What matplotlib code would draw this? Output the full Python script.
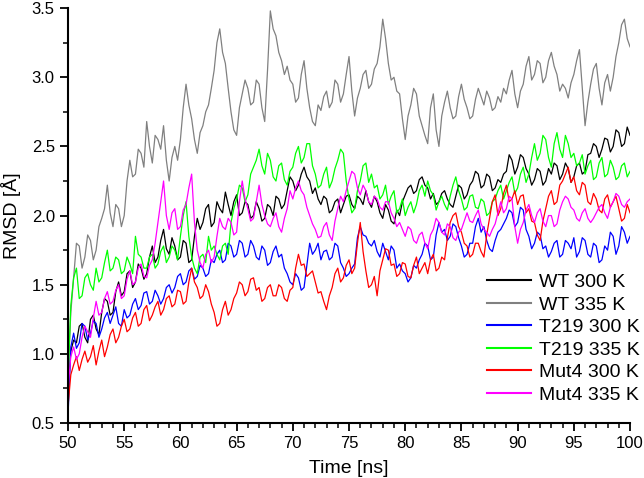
import numpy as np
import matplotlib
matplotlib.use("Agg")
import matplotlib.pyplot as plt
from matplotlib.ticker import MultipleLocator

# time axis: one sample every 0.25 ns from 50 to 100 ns
time_ns = np.arange(201) * 0.25 + 50.0

# RMSD values [Å].
# "_pts" are the values at 50.0, 50.5, ... 100.0 ns (rows of 5 ns),
# "_mid" are the values in between (50.25, 50.75, ...), which carry the jitter.
wt_300_pts = [
    0.70, 1.10, 1.20, 1.12, 1.25, 1.18, 1.30, 1.38, 1.30, 1.52,
    1.45, 1.60, 1.52, 1.62, 1.58, 1.78, 1.70, 1.90, 1.72, 1.78,
    1.70, 1.80, 1.68, 1.98, 1.95, 2.08, 1.95, 2.05, 2.17, 2.00,
    2.15, 2.02, 2.08, 2.00, 2.05, 1.98, 2.06, 2.14, 2.05, 2.18,
    2.25, 2.22, 2.35, 2.25, 2.20, 2.08, 2.12, 2.04, 2.12, 2.08,
    2.15, 2.05, 2.12, 2.18, 2.06, 2.10, 1.98, 2.04, 1.94, 2.00,
    2.15, 2.22, 2.18, 2.28, 2.20, 2.16, 2.10, 2.18, 2.08, 2.14,
    2.20, 2.15, 2.25, 2.30, 2.22, 2.28, 2.20, 2.24, 2.32, 2.40,
    2.35, 2.42, 2.30, 2.26, 2.32, 2.25, 2.30, 2.36, 2.30, 2.34,
    2.28, 2.38, 2.32, 2.45, 2.50, 2.48, 2.55, 2.50, 2.60, 2.52,
    2.58,
]
wt_300_mid = [
    1.02, 1.08, 1.22, 1.08, 1.28, 1.14, 1.40, 1.28, 1.45, 1.42,
    1.58, 1.48, 1.65, 1.54, 1.70, 1.66, 1.82, 1.76, 1.84, 1.68,
    1.82, 1.66, 1.85, 1.90, 2.05, 1.92, 2.10, 2.02, 2.08, 2.10,
    2.00, 2.10, 1.98, 2.10, 1.96, 2.08, 2.00, 2.12, 2.08, 2.28,
    2.18, 2.30, 2.28, 2.16, 2.12, 2.14, 2.02, 2.10, 2.02, 2.14,
    2.08, 2.14, 2.08, 2.10, 2.14, 2.02, 2.08, 1.96, 2.04, 2.10,
    2.20, 2.16, 2.26, 2.22, 2.12, 2.08, 2.16, 2.12, 2.06, 2.22,
    2.12, 2.22, 2.32, 2.20, 2.30, 2.18, 2.26, 2.30, 2.44, 2.30,
    2.44, 2.34, 2.22, 2.34, 2.22, 2.34, 2.38, 2.26, 2.38, 2.24,
    2.36, 2.30, 2.44, 2.52, 2.42, 2.56, 2.46, 2.62, 2.50, 2.64,
]
wt_335_pts = [
    0.85, 1.55, 1.78, 1.70, 1.82, 1.75, 1.98, 2.22, 1.92, 2.05,
    2.00, 2.40, 2.30, 2.45, 2.68, 2.38, 2.55, 2.65, 2.25, 2.50,
    2.55, 2.95, 2.70, 2.45, 2.65, 2.80, 3.05, 3.35, 3.10, 2.75,
    2.58, 2.88, 2.92, 2.82, 2.95, 2.68, 3.48, 3.30, 3.12, 3.08,
    2.95, 2.85, 3.12, 2.78, 2.65, 2.76, 2.90, 2.82, 2.95, 2.88,
    3.15, 2.72, 2.92, 3.05, 2.95, 3.10, 3.42, 3.10, 3.00, 2.88,
    2.55, 2.80, 2.88, 2.65, 2.52, 2.88, 2.50, 2.82, 2.78, 2.72,
    2.95, 2.78, 2.72, 2.92, 2.80, 2.85, 2.78, 2.82, 2.88, 3.05,
    2.78, 2.95, 3.15, 3.02, 3.10, 3.00, 3.18, 3.02, 2.95, 2.85,
    3.02, 3.20, 2.65, 2.95, 3.10, 2.80, 3.02, 3.00, 3.25, 3.42,
    3.22,
]
wt_335_mid = [
    1.30, 1.80, 1.62, 1.86, 1.68, 1.92, 2.05, 2.02, 2.08, 1.92,
    2.25, 2.28, 2.48, 2.35, 2.50, 2.58, 2.48, 2.40, 2.42, 2.40,
    2.78, 2.80, 2.55, 2.60, 2.75, 2.92, 3.25, 3.18, 2.92, 2.62,
    2.78, 2.98, 2.80, 2.98, 2.78, 3.05, 3.35, 3.18, 3.02, 2.98,
    2.82, 3.02, 2.92, 2.68, 2.80, 2.86, 2.78, 2.98, 2.82, 3.02,
    2.90, 2.85, 3.02, 2.92, 3.06, 3.22, 3.28, 2.98, 2.90, 2.70,
    2.72, 2.92, 2.72, 2.58, 2.78, 2.62, 2.72, 2.90, 2.70, 2.86,
    2.84, 2.70, 2.84, 2.86, 2.90, 2.76, 2.86, 2.92, 2.98, 2.88,
    2.90, 3.08, 2.98, 3.12, 2.96, 3.12, 3.08, 2.90, 2.92, 2.96,
    3.12, 2.92, 2.82, 3.06, 2.92, 2.96, 2.90, 3.15, 3.38, 3.28,
]
t219_300_pts = [
    0.55, 1.15, 1.08, 1.20, 1.15, 1.22, 1.18, 1.30, 1.28, 1.22,
    1.32, 1.28, 1.40, 1.35, 1.45, 1.38, 1.42, 1.40, 1.50, 1.48,
    1.58, 1.52, 1.62, 1.56, 1.62, 1.58, 1.66, 1.75, 1.68, 1.78,
    1.72, 1.80, 1.72, 1.78, 1.68, 1.75, 1.66, 1.78, 1.72, 1.58,
    1.50, 1.55, 1.48, 1.80, 1.75, 1.68, 1.75, 1.70, 1.78, 1.62,
    1.58, 1.65, 1.92, 1.85, 1.78, 1.74, 1.80, 1.68, 1.75, 1.65,
    1.58, 1.55, 1.62, 1.72, 1.78, 1.70, 1.95, 1.90, 1.85, 1.92,
    1.78, 1.72, 1.80, 1.98, 1.92, 1.76, 1.82, 1.90, 1.98, 2.02,
    1.95, 2.04, 1.85, 1.80, 1.86, 1.78, 1.74, 1.82, 1.72, 1.80,
    1.84, 1.74, 1.82, 1.70, 1.78, 1.68, 1.75, 1.85, 1.78, 1.88,
    1.85,
]
t219_300_mid = [
    1.05, 1.04, 1.22, 1.10, 1.24, 1.12, 1.26, 1.22, 1.34, 1.20,
    1.26, 1.36, 1.32, 1.44, 1.36, 1.46, 1.36, 1.48, 1.44, 1.56,
    1.50, 1.60, 1.54, 1.64, 1.56, 1.68, 1.72, 1.66, 1.80, 1.70,
    1.82, 1.70, 1.82, 1.70, 1.78, 1.64, 1.74, 1.70, 1.62, 1.52,
    1.58, 1.46, 1.64, 1.72, 1.80, 1.74, 1.68, 1.80, 1.66, 1.56,
    1.62, 1.84, 1.86, 1.80, 1.82, 1.70, 1.74, 1.78, 1.62, 1.60,
    1.52, 1.64, 1.68, 1.80, 1.68, 1.86, 1.88, 1.82, 1.94, 1.84,
    1.70, 1.80, 1.92, 1.88, 1.82, 1.74, 1.88, 1.94, 2.04, 1.92,
    2.06, 1.90, 1.76, 1.88, 1.76, 1.70, 1.80, 1.70, 1.82, 1.76,
    1.70, 1.84, 1.72, 1.80, 1.66, 1.78, 1.88, 1.72, 1.92, 1.80,
]
t219_335_pts = [
    0.80, 1.55, 1.40, 1.55, 1.50, 1.62, 1.55, 1.75, 1.62, 1.68,
    1.60, 1.65, 1.85, 1.70, 1.62, 1.72, 1.65, 1.78, 1.70, 1.75,
    1.85, 2.10, 1.70, 1.58, 1.72, 1.85, 1.78, 1.68, 1.80, 1.95,
    2.12, 2.20, 2.15, 2.35, 2.48, 2.30, 2.40, 2.25, 2.38, 2.22,
    2.35, 2.50, 2.42, 2.52, 2.30, 2.22, 2.35, 2.25, 2.40, 2.45,
    2.12, 2.05, 2.25, 2.38, 2.30, 2.22, 2.15, 2.08, 2.18, 2.05,
    2.00, 2.10, 2.08, 2.22, 2.25, 2.15, 2.10, 2.08, 2.14, 2.28,
    2.12, 2.06, 2.15, 2.05, 2.10, 2.02, 2.12, 2.22, 2.18, 2.28,
    2.20, 2.35, 2.30, 2.52, 2.45, 2.55, 2.35, 2.60, 2.42, 2.52,
    2.45, 2.38, 2.30, 2.40, 2.28, 2.42, 2.30, 2.35, 2.28, 2.38,
    2.32,
]
t219_335_mid = [
    1.35, 1.62, 1.42, 1.58, 1.46, 1.52, 1.66, 1.60, 1.70, 1.58,
    1.70, 1.58, 1.72, 1.62, 1.70, 1.62, 1.74, 1.66, 1.78, 1.68,
    2.00, 1.85, 1.62, 1.70, 1.66, 1.75, 1.72, 1.78, 1.72, 2.05,
    2.22, 2.10, 2.30, 2.40, 2.36, 2.45, 2.28, 2.36, 2.26, 2.32,
    2.45, 2.38, 2.52, 2.36, 2.20, 2.30, 2.20, 2.34, 2.48, 2.25,
    2.02, 2.18, 2.36, 2.24, 2.20, 2.12, 2.22, 2.14, 2.02, 2.12,
    2.06, 2.02, 2.18, 2.14, 2.18, 2.04, 2.14, 2.04, 2.22, 2.18,
    2.04, 2.14, 2.06, 2.12, 2.00, 2.10, 2.18, 2.12, 2.24, 2.16,
    2.30, 2.24, 2.42, 2.40, 2.58, 2.42, 2.52, 2.48, 2.58, 2.42,
    2.36, 2.44, 2.36, 2.26, 2.38, 2.28, 2.40, 2.26, 2.36, 2.28,
]
mut4_300_pts = [
    0.62, 0.92, 0.88, 1.02, 0.98, 0.92, 1.10, 1.05, 1.18, 1.12,
    1.25, 1.18, 1.30, 1.22, 1.35, 1.28, 1.38, 1.32, 1.42, 1.36,
    1.45, 1.38, 1.62, 1.48, 1.42, 1.45, 1.30, 1.22, 1.38, 1.32,
    1.44, 1.50, 1.45, 1.55, 1.48, 1.40, 1.50, 1.42, 1.48, 1.38,
    1.48, 1.72, 1.65, 1.58, 1.52, 1.45, 1.32, 1.48, 1.62, 1.55,
    1.68, 1.62, 1.95, 1.60, 1.50, 1.42, 1.68, 1.75, 1.65, 1.58,
    1.65, 1.55, 1.70, 1.62, 1.58, 1.72, 1.62, 1.68, 1.95, 2.02,
    1.88, 1.78, 1.72, 1.80, 1.70, 1.98, 2.15, 2.05, 2.22, 2.12,
    2.08, 2.15, 2.05, 1.95, 1.82, 2.05, 2.18, 2.10, 2.25, 2.35,
    2.28, 2.15, 2.22, 2.08, 2.12, 2.02, 2.15, 2.10, 2.05, 1.98,
    2.02,
]
mut4_300_mid = [
    0.85, 0.98, 0.96, 0.94, 1.06, 1.02, 0.98, 1.14, 1.08, 1.20,
    1.16, 1.26, 1.20, 1.32, 1.24, 1.34, 1.28, 1.40, 1.34, 1.46,
    1.36, 1.52, 1.52, 1.40, 1.50, 1.36, 1.20, 1.32, 1.28, 1.40,
    1.52, 1.42, 1.54, 1.46, 1.38, 1.48, 1.42, 1.50, 1.40, 1.46,
    1.62, 1.64, 1.56, 1.60, 1.44, 1.38, 1.42, 1.58, 1.52, 1.64,
    1.58, 1.80, 1.74, 1.48, 1.56, 1.60, 1.76, 1.64, 1.56, 1.66,
    1.56, 1.64, 1.58, 1.66, 1.68, 1.60, 1.70, 1.84, 2.00, 1.92,
    1.80, 1.70, 1.80, 1.74, 1.86, 2.10, 2.00, 2.16, 2.10, 2.18,
    2.14, 2.02, 1.96, 1.86, 1.96, 2.14, 2.08, 2.22, 2.30, 2.24,
    2.18, 2.24, 2.10, 2.16, 2.04, 2.12, 2.06, 2.14, 1.96, 2.08,
]
mut4_335_pts = [
    0.75, 1.05, 1.00, 1.20, 1.12, 1.38, 1.30, 1.45, 1.38, 1.50,
    1.42, 1.60, 1.52, 1.65, 1.55, 1.68, 1.95, 2.25, 1.90, 2.05,
    1.92, 2.08, 2.30, 1.75, 1.62, 1.75, 1.70, 1.98, 1.90, 1.95,
    1.88, 2.25, 2.05, 1.98, 2.22, 2.00, 1.92, 2.02, 1.88, 2.05,
    2.12, 2.25, 2.15, 2.00, 1.90, 1.85, 1.95, 1.82, 2.05, 2.10,
    2.25, 2.30, 2.15, 2.18, 2.08, 2.12, 2.04, 2.10, 1.98, 1.95,
    1.85, 1.90, 1.80, 1.88, 1.76, 1.90, 1.95, 1.86, 1.92, 1.82,
    1.90, 2.02, 1.95, 2.04, 1.90, 1.85, 1.94, 2.10, 2.05, 2.12,
    1.80, 1.95, 2.08, 1.95, 2.05, 1.92, 2.00, 1.94, 2.10, 2.12,
    2.04, 1.96, 2.05, 1.95, 2.02, 2.08, 1.98, 2.10, 2.14, 2.06,
    2.12,
]
mut4_335_mid = [
    0.98, 0.96, 1.12, 1.16, 1.26, 1.28, 1.40, 1.36, 1.46, 1.40,
    1.54, 1.50, 1.62, 1.56, 1.64, 1.80, 2.10, 2.00, 2.02, 1.90,
    2.04, 2.20, 1.95, 1.66, 1.72, 1.66, 1.85, 1.92, 1.98, 1.86,
    2.10, 2.12, 1.96, 2.10, 2.08, 1.94, 1.98, 1.92, 1.98, 2.18,
    2.20, 2.18, 2.06, 1.94, 1.84, 1.92, 1.86, 1.96, 2.14, 2.18,
    2.32, 2.20, 2.22, 2.10, 2.14, 2.06, 2.10, 2.02, 1.92, 1.90,
    1.92, 1.82, 1.86, 1.80, 1.86, 1.98, 1.88, 1.94, 1.84, 1.88,
    1.96, 1.96, 2.00, 1.94, 1.88, 1.90, 2.02, 2.02, 2.14, 1.92,
    1.90, 2.04, 2.00, 2.02, 1.96, 2.00, 1.92, 2.04, 2.14, 2.06,
    1.98, 2.02, 1.98, 1.98, 2.06, 2.02, 2.06, 2.16, 2.08, 2.10,
]

labels = ["WT 300 K", "WT 335 K", "T219 300 K", "T219 335 K",
          "Mut4 300 K", "Mut4 335 K"]
colors = ["#000000", "#808080", "#0000ff", "#00ff00", "#ff0000", "#ff00ff"]
series = [
    (wt_300_pts, wt_300_mid),
    (wt_335_pts, wt_335_mid),
    (t219_300_pts, t219_300_mid),
    (t219_335_pts, t219_335_mid),
    (mut4_300_pts, mut4_300_mid),
    (mut4_335_pts, mut4_335_mid),
]


def interleave(pts, mid):
    """Merge the half-ns values and the in-between values into one trace."""
    out = np.empty(len(pts) + len(mid))
    out[0::2] = pts
    out[1::2] = mid
    return out


plt.rcParams["font.family"] = ["Liberation Sans", "DejaVu Sans"]

fig = plt.figure(figsize=(6.44, 4.78), dpi=100)
ax = fig.add_axes([0.1056, 0.115, 0.8727, 0.868])

for (pts, mid), col, lab in zip(series, colors, labels):
    ax.plot(time_ns, interleave(pts, mid), color=col, lw=0.9, label=lab)

ax.set_xlim(50, 100)
ax.set_ylim(0.5, 3.5)
ax.xaxis.set_major_locator(MultipleLocator(5))
ax.xaxis.set_minor_locator(MultipleLocator(1))
ax.yaxis.set_major_locator(MultipleLocator(0.5))
ax.yaxis.set_minor_locator(MultipleLocator(0.25))
ax.yaxis.set_major_formatter(plt.FormatStrFormatter("%.1f"))

for side in ("top", "right"):
    ax.spines[side].set_visible(False)
for side in ("left", "bottom"):
    ax.spines[side].set_linewidth(1.5)

ax.tick_params(which="major", direction="out", length=6, width=1.3,
               labelsize=12)
ax.tick_params(which="minor", direction="out", length=3.5, width=1.1)

ax.set_xlabel("Time [ns]", fontsize=14, labelpad=6)
ax.set_ylabel("RMSD [Å]", fontsize=14, labelpad=8)

leg = ax.legend(loc="upper left", bbox_to_anchor=(0.745, 0.36),
                frameon=False, fontsize=14, handlelength=2.3,
                handletextpad=0.4, labelspacing=0.25, borderpad=0,
                borderaxespad=0)
for line in leg.get_lines():
    line.set_linewidth(1.5)

fig.savefig("out.png", dpi=100)
